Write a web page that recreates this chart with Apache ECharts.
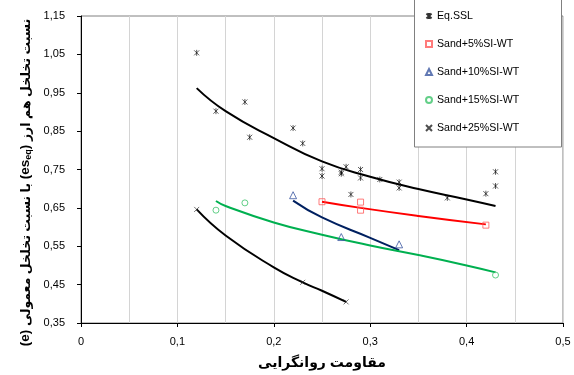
<!DOCTYPE html>
<html>
<head>
<meta charset="utf-8">
<script src="https://cdn.jsdelivr.net/npm/echarts@6/dist/echarts.min.js"></script>
<style>
  html, body { margin: 0; padding: 0; background: #fff; }
  #chart { width: 574px; height: 375px; }
</style>
</head>
<body>
<div id="chart"></div>
<script>
// Tick labels (comma decimal separator)
const xTickLabels = ['0', '0,1', '0,2', '0,3', '0,4', '0,5'];
const yTickLabels = ['0,35', '0,45', '0,55', '0,65', '0,75', '0,85', '0,95', '1,05', '1,15'];

// Measured points: [liquefaction resistance, void ratio]
const eqSsl = [
  [0.12, 1.054], [0.14, 0.902], [0.17, 0.926], [0.175, 0.834], [0.22, 0.858],
  [0.23, 0.818], [0.25, 0.752], [0.25, 0.733], [0.27, 0.743], [0.27, 0.739],
  [0.275, 0.757], [0.29, 0.750], [0.29, 0.728], [0.31, 0.724], [0.33, 0.717],
  [0.33, 0.702], [0.28, 0.685], [0.38, 0.676], [0.43, 0.744], [0.43, 0.707],
  [0.42, 0.687]
];
const sand5 = [[0.25, 0.666], [0.29, 0.665], [0.29, 0.644], [0.42, 0.605]];
const sand10 = [[0.22, 0.683], [0.27, 0.574], [0.33, 0.555]];
const sand15 = [[0.14, 0.644], [0.17, 0.663], [0.43, 0.475]];
const sand25 = [[0.12, 0.646], [0.23, 0.456], [0.275, 0.405]];

// Trend curves
const eqTrendX = [0.12, 0.15, 0.2, 0.25, 0.3, 0.35, 0.4, 0.43];
const eqTrendY = [0.962, 0.902, 0.832, 0.771, 0.731, 0.699, 0.672, 0.655];
const sand5TrendX = [0.25, 0.29, 0.35, 0.42];
const sand5TrendY = [0.666, 0.650, 0.629, 0.607];
const sand10TrendX = [0.22, 0.25, 0.3, 0.33];
const sand10TrendY = [0.669, 0.625, 0.572, 0.540];
const sand15TrendX = [0.14, 0.15, 0.2, 0.25, 0.3, 0.35, 0.4, 0.43];
const sand15TrendY = [0.668, 0.655, 0.612, 0.580, 0.552, 0.527, 0.500, 0.482];
const sand25TrendX = [0.12, 0.15, 0.2, 0.23, 0.25, 0.275];
const sand25TrendY = [0.646, 0.578, 0.495, 0.456, 0.434, 0.405];

const pairs = (xs, ys) => xs.map((x, i) => [x, ys[i]]);

const FONT = "'Liberation Sans', 'DejaVu Sans', Arial, sans-serif";
const ASTERISK = 'path://M0,1L10,11M10,1L0,11M5,0L5,12';
const CROSS = 'path://M0,0L10,10M10,0L0,10';

function markerSeries(name, data, symbol, size, stroke, width) {
  return {
    name, type: 'scatter', data, symbol, symbolSize: size, z: 3,
    itemStyle: { color: 'rgba(0,0,0,0)', borderColor: stroke, borderWidth: width },
    emphasis: { disabled: true }
  };
}
function trendSeries(data, color) {
  return {
    type: 'line', data, smooth: true, showSymbol: false, symbol: 'none', z: 2,
    lineStyle: { color, width: 2 }, emphasis: { disabled: true }, silent: true
  };
}

const chart = echarts.init(document.getElementById('chart'), null, { renderer: 'canvas' });
chart.setOption({
  animation: false,
  backgroundColor: '#fff',
  textStyle: { fontFamily: FONT },
  grid: {
    left: 81, right: 11, top: 16, bottom: 51,
    show: true, borderColor: '#808080', borderWidth: 1, backgroundColor: 'transparent'
  },
  graphic: [{
    type: 'rect', z: 1,
    shape: { x: 414.5, y: -2, width: 147, height: 149 },
    style: { fill: '#fff', stroke: '#808080', lineWidth: 1 }
  }],
  legend: {
    orient: 'vertical', left: 420, top: 4, z: 5,
    itemWidth: 6, itemHeight: 6, itemGap: 14,
    data: ['Eq.SSL', 'Sand+5%SI-WT', 'Sand+10%SI-WT', 'Sand+15%SI-WT', 'Sand+25%SI-WT'],
    textStyle: { fontFamily: FONT, fontSize: 10.6, color: '#000', lineHeight: 14 },
    selectedMode: false
  },
  xAxis: {
    type: 'value', min: 0, max: 0.5, interval: 0.1,
    name: 'مقاومت روانگرایی', nameLocation: 'middle', nameGap: 33,
    nameTextStyle: { fontFamily: FONT, fontSize: 14, fontWeight: 'bold', color: '#000' },
    axisLine: { show: true, onZero: false, lineStyle: { color: '#000', width: 1 } },
    axisTick: { show: true, inside: false, length: 4, lineStyle: { color: '#000' } },
    axisLabel: {
      fontFamily: FONT, fontSize: 11, color: '#000', margin: 13,
      formatter: v => xTickLabels[Math.round(v / 0.1)]
    },
    splitLine: { show: true, lineStyle: { color: '#d4d4d4', width: 1 } },
    minorTick: { show: false, splitNumber: 2 },
    minorSplitLine: { show: true, lineStyle: { color: '#d4d4d4', width: 1 } }
  },
  yAxis: {
    type: 'value', min: 0.35, max: 1.15, interval: 0.1,
    name: '{a|(e) }{b|با نسبت تخلخل معمولی}{a| (es}{s|eq}{a|) }{b|نسبت تخلخل هم ارز}',
    nameLocation: 'middle', nameRotate: 90, nameGap: 48,
    nameTextStyle: {
      padding: [0, 26, 0, 0],
      rich: {
        a: { fontFamily: FONT, fontSize: 13.5, fontWeight: 'bold', color: '#000', lineHeight: 17, verticalAlign: 'bottom' },
        b: { fontFamily: FONT, fontSize: 12.5, fontWeight: 'bold', color: '#000', lineHeight: 17, verticalAlign: 'bottom' },
        s: { fontFamily: FONT, fontSize: 9, fontWeight: 'bold', color: '#000', lineHeight: 10, verticalAlign: 'bottom' }
      }
    },
    axisLine: { show: true, onZero: false, lineStyle: { color: '#000', width: 1 } },
    axisTick: { show: true, inside: false, length: 4, lineStyle: { color: '#000' } },
    axisLabel: {
      fontFamily: FONT, fontSize: 11, color: '#000', margin: 16,
      formatter: v => yTickLabels[Math.round((v - 0.35) / 0.1)]
    },
    splitLine: { show: false }
  },
  series: [
    trendSeries(pairs(eqTrendX, eqTrendY), '#000000'),
    trendSeries(pairs(sand5TrendX, sand5TrendY), '#ff0000'),
    trendSeries(pairs(sand10TrendX, sand10TrendY), '#002060'),
    trendSeries(pairs(sand15TrendX, sand15TrendY), '#00b050'),
    trendSeries(pairs(sand25TrendX, sand25TrendY), '#000000'),
    markerSeries('Eq.SSL', eqSsl, ASTERISK, [5, 6], '#000', 0.8),
    markerSeries('Sand+5%SI-WT', sand5, 'rect', 6, '#ff5a5a', 1),
    markerSeries('Sand+10%SI-WT', sand10, 'triangle', 7, '#3a56a0', 1),
    markerSeries('Sand+15%SI-WT', sand15, 'circle', 6, '#3cc36a', 1),
    markerSeries('Sand+25%SI-WT', sand25, CROSS, 5, '#222', 0.8)
  ]
});
</script>
</body>
</html>
